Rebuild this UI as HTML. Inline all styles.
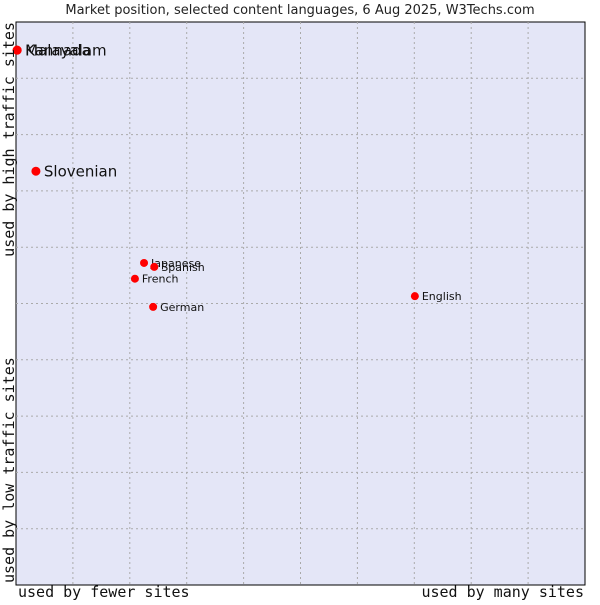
<!DOCTYPE html>
<html><head><meta charset="utf-8"><style>
body{margin:0;background:#fff;}
svg text{font-family:"DejaVu Sans","Liberation Sans",sans-serif;}
</style></head><body>
<svg id="chart" width="600" height="600" viewBox="0 0 600 600" xmlns="http://www.w3.org/2000/svg">
<text x="300" y="14" text-anchor="middle" font-size="13" fill="#222">Market position, selected content languages, 6 Aug 2025, W3Techs.com</text>
<rect x="16" y="22" width="569" height="563" fill="#e4e6f7" stroke="#000" stroke-width="1"/>
<g id="grid"></g>
<g id="points"></g>
<text x="18" y="597" font-size="15" fill="#111" style="font-family:'DejaVu Sans Mono','Liberation Mono',monospace">used by fewer sites</text>
<text x="584" y="597" text-anchor="end" font-size="15" fill="#111" style="font-family:'DejaVu Sans Mono','Liberation Mono',monospace">used by many sites</text>
<text transform="translate(14,22) rotate(-90)" text-anchor="end" font-size="15" fill="#111" style="font-family:'DejaVu Sans Mono','Liberation Mono',monospace">used by high traffic sites</text>
<text transform="translate(14,583) rotate(-90)" font-size="15" fill="#111" style="font-family:'DejaVu Sans Mono','Liberation Mono',monospace">used by low traffic sites</text>
</svg>
<script>
const languages=["Malayalam","Kannada","Slovenian","Japanese","Spanish","French","German","English"];
const xValues=[0.2,0.2,3.5,22.5,24.3,20.9,24.1,70.1];
const yValues=[95,95,73.5,57.2,56.5,54.4,49.4,51.3];
const labelSizes=[15,15,15,11,11,11,11,11];
const X0=16,X1=585,Y0=585,Y1=22;
const sx=v=>X0+v/100*(X1-X0);
const sy=v=>Y0-v/100*(Y0-Y1);
const NS="http://www.w3.org/2000/svg";
const grid=document.getElementById('grid');
for(let i=1;i<10;i++){
  const l=document.createElementNS(NS,'line');
  
  
  l.setAttribute('x1',sx(i*10));l.setAttribute('x2',sx(i*10));
  l.setAttribute('y1',Y1);l.setAttribute('y2',Y0);
  l.setAttribute('stroke','#aaa');l.setAttribute('stroke-dasharray','2,3');
  grid.appendChild(l);
  const h=document.createElementNS(NS,'line');
  
  
  h.setAttribute('x1',X0);h.setAttribute('x2',X1);
  h.setAttribute('y1',sy(i*10));h.setAttribute('y2',sy(i*10));
  h.setAttribute('stroke','#aaa');h.setAttribute('stroke-dasharray','2,3');
  grid.appendChild(h);
}
const pts=document.getElementById('points');
languages.forEach((n,i)=>{
  const x=sx(xValues[i]),y=sy(yValues[i]);
  const c=document.createElementNS(NS,'circle');
  
  
  c.setAttribute('cx',x);c.setAttribute('cy',y);c.setAttribute('r',labelSizes[i]>12?4.5:4);
  c.setAttribute('fill','#f00');
  pts.appendChild(c);
  const t=document.createElementNS(NS,'text');
  
  
  t.setAttribute('x',x+(labelSizes[i]>12?8:7));t.setAttribute('y',y+labelSizes[i]*0.36);
  t.setAttribute('font-size',labelSizes[i]);t.setAttribute('fill','#111');
  t.textContent=n;
  pts.appendChild(t);
});
</script>
</body></html>
